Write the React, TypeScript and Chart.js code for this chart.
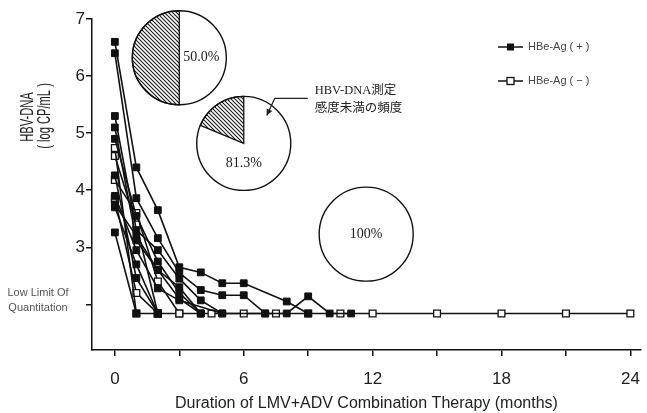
import React, { useEffect, useRef } from 'react';
import { Chart, registerables } from 'chart.js';

Chart.register(...registerables);

// Lower limit of quantitation (log copies/mL), plotted level
const LLOQ = 1.84;
const L = LLOQ;

// HBe-Ag (+) patients: [month, log CP/mL]
const posA = [[0, 6.6], [1, 4.4], [2, 3.65], [3, 2.65], [4, 2.56], [5, 2.37], [6, 2.37], [8, 2.05], [9, L]];
const posB = [[0, 6.4], [1, 3.86], [2, 3.16], [3, 2.55], [4, 2.25], [5, 2.16], [6, 2.16], [7, L]];
const posC = [[0, 5.3], [1, 3.3], [2, 2.95], [3, 2.45], [4, 2.07], [5, L], [7, L], [8, L], [9, 2.14], [10, L], [11, L]];
const posD = [[0, 5.1], [1, 3.12], [2, 2.6], [3, 2.3], [4, L]];
const posE = [[0, 4.9], [1, 3.55], [2, 2.75], [3, 2.2], [4, L]];
const posF = [[0, 4.26], [1, 2.46], [2, L]];
const posG = [[0, 3.9], [1, 2.95], [2, 2.28], [3, 2.07], [5, L]];
const posH = [[0, 3.75], [1, 3.2], [2, 2.6], [3, 2.1], [4, L]];
const posI = [[0, 3.7], [1, 2.7], [2, L]];
const posJ = [[0, 3.26], [1, L]];

// HBe-Ag (-) patients
const negA = [[0, 4.74], [1, L], [2, L], [3, L], [4.5, L], [6, L], [7.5, L], [9, L], [10.5, L], [12, L], [15, L], [18, L], [21, L], [24, L]];
const negB = [[0, 4.6], [1, 3.4], [2, L]];
const negC = [[0, 4.18], [1, 3.6], [2, 2.4], [3, L]];
const negD = [[0, 3.85], [1, 2.2], [2, L]];

const positiveSeries = [posA, posB, posC, posD, posE, posF, posG, posH, posI, posJ];
const negativeSeries = [negA, negB, negC, negD];

// Axis ticks
const xTickValues = [0, 3, 6, 9, 12, 15, 18, 21, 24];
const xLabelEvery = 6;
const yTickValues = [2, 3, 4, 5, 6, 7];

// Pie insets: frequency of HBV-DNA below detection
const pieMonths = [3, 6, 11.7];
const pieBelowPct = [50.0, 81.3, 100];
const pieLabels = ['50.0%', '81.3%', '100%'];

const legendLabels = ['HBe-Ag ( + )', 'HBe-Ag ( − )'];
const xTitle = 'Duration of LMV+ADV Combination Therapy (months)';
const yTitle1 = 'HBV-DNA';
const yTitle2 = '( log CP/mL )';
const lloqLines = ['Low Limit Of', 'Quantitation'];
const noteLines = ['HBV-DNA測定', '感度未満の頻度'];

const SANS = '"Liberation Sans", Arial, sans-serif';
const SERIF = '"Liberation Serif", "Noto Sans CJK JP", serif';

function makeHatch(ctx: CanvasRenderingContext2D) {
  const c = document.createElement('canvas');
  c.width = 4;
  c.height = 4;
  const g = c.getContext('2d')!;
  g.fillStyle = '#fff';
  g.fillRect(0, 0, 4, 4);
  g.strokeStyle = '#1a1a1a';
  g.lineWidth = 1.1;
  g.beginPath();
  g.moveTo(-1, -1); g.lineTo(5, 5);
  g.moveTo(-1, 3); g.lineTo(1, 5);
  g.moveTo(3, -1); g.lineTo(5, 1);
  g.stroke();
  return ctx.createPattern(c, 'repeat')!;
}

const decor = {
  id: 'decor',
  afterDraw(chart: any) {
    const { ctx, scales } = chart;
    const xs = scales.x;
    const ys = scales.y;
    ctx.save();

    // Y axis title (condensed, rotated)
    ctx.fillStyle = '#222';
    ctx.textAlign = 'center';
    ctx.textBaseline = 'middle';
    ctx.font = `18px ${SANS}`;
    const drawRot = (t: string, cx: number, cy: number) => {
      ctx.save();
      ctx.translate(cx, cy);
      ctx.rotate(-Math.PI / 2);
      ctx.scale(0.62, 1);
      ctx.fillText(t, 0, 0);
      ctx.restore();
    };
    drawRot(yTitle1, 28, 117);
    drawRot(yTitle2, 45, 116);

    // Low limit label
    ctx.font = `11px ${SANS}`;
    ctx.fillStyle = '#555';
    ctx.fillText(lloqLines[0], 38, 293);
    ctx.fillText(lloqLines[1], 38, 308);

    // Pies
    const hatch = makeHatch(ctx);
    const pieY = [6.32, 4.82, 3.23];
    const labelOff = [[22, 0], [0, 20], [0, 0]];
    const R = 47;
    pieMonths.forEach((m, i) => {
      const cx = xs.getPixelForValue(m);
      const cy = ys.getPixelForValue(pieY[i]);
      ctx.beginPath();
      ctx.arc(cx, cy, R, 0, Math.PI * 2);
      ctx.fillStyle = '#fff';
      ctx.fill();
      const a = ((100 - pieBelowPct[i]) / 100) * Math.PI * 2;
      if (a > 0) {
        ctx.beginPath();
        ctx.moveTo(cx, cy);
        ctx.arc(cx, cy, R, -Math.PI / 2 - a, -Math.PI / 2);
        ctx.closePath();
        ctx.fillStyle = hatch;
        ctx.fill();
        ctx.strokeStyle = '#111';
        ctx.lineWidth = 1.3;
        ctx.stroke();
      }
      ctx.beginPath();
      ctx.arc(cx, cy, R, 0, Math.PI * 2);
      ctx.strokeStyle = '#111';
      ctx.lineWidth = 1.4;
      ctx.stroke();
      ctx.fillStyle = '#222';
      ctx.font = `14px ${SERIF}`;
      ctx.textAlign = 'center';
      ctx.textBaseline = 'middle';
      ctx.fillText(pieLabels[i], cx + labelOff[i][0], cy + labelOff[i][1]);
    });

    // Annotation near second pie
    const px = xs.getPixelForValue(pieMonths[1]);
    const py = ys.getPixelForValue(pieY[1]);
    ctx.font = `12.5px ${SERIF}`;
    ctx.textAlign = 'left';
    ctx.fillStyle = '#222';
    ctx.fillText(noteLines[0], px + 71, py - 53);
    ctx.fillText(noteLines[1], px + 71, py - 35);
    ctx.strokeStyle = '#222';
    ctx.lineWidth = 1.2;
    ctx.beginPath();
    ctx.moveTo(px + 64, py - 45);
    ctx.lineTo(px + 31, py - 45);
    ctx.lineTo(px + 23, py - 28);
    ctx.stroke();
    // arrow head
    const ax = px + 23, ay = py - 28;
    const ang = Math.atan2(17, -8);
    ctx.beginPath();
    ctx.moveTo(ax, ay);
    ctx.lineTo(ax - 7 * Math.cos(ang - 0.45), ay - 7 * Math.sin(ang - 0.45));
    ctx.lineTo(ax - 7 * Math.cos(ang + 0.45), ay - 7 * Math.sin(ang + 0.45));
    ctx.closePath();
    ctx.fillStyle = '#222';
    ctx.fill();

    // Legend
    const lx = 498, lw = 25;
    [47, 81].forEach((ly, i) => {
      ctx.strokeStyle = '#111';
      ctx.lineWidth = 1.5;
      ctx.beginPath();
      ctx.moveTo(lx, ly);
      ctx.lineTo(lx + lw, ly);
      ctx.stroke();
      const mx = lx + lw / 2;
      if (i === 0) {
        ctx.fillStyle = '#111';
        ctx.fillRect(mx - 3.5, ly - 3.5, 7, 7);
      } else {
        ctx.fillStyle = '#fff';
        ctx.fillRect(mx - 3.5, ly - 3.5, 7, 7);
        ctx.lineWidth = 1.3;
        ctx.strokeRect(mx - 3.5, ly - 3.5, 7, 7);
      }
      ctx.fillStyle = '#444';
      ctx.font = `11px ${SANS}`;
      ctx.textAlign = 'left';
      ctx.textBaseline = 'middle';
      ctx.fillText(legendLabels[i], lx + lw + 5, ly);
    });

    ctx.restore();
  },
};

export default function App() {
  const ref = useRef<HTMLCanvasElement>(null);

  useEffect(() => {
    if (!ref.current) return;
    const toPts = (s: number[][]) => s.map(([x, y]) => ({ x, y }));
    const datasets: any[] = [];
    positiveSeries.forEach((s, i) => {
      datasets.push({
        label: `pos${i}`,
        data: toPts(s),
        showLine: true,
        borderColor: '#111',
        backgroundColor: '#111',
        borderWidth: 1.6,
        pointStyle: 'rect',
        pointRadius: 4.8,
        pointBorderWidth: 1,
        pointBackgroundColor: '#111',
        pointBorderColor: '#111',
      });
    });
    negativeSeries.forEach((s, i) => {
      datasets.push({
        label: `neg${i}`,
        data: toPts(s),
        showLine: true,
        borderColor: '#111',
        backgroundColor: '#fff',
        borderWidth: 1.6,
        pointStyle: 'rect',
        pointRadius: 4.8,
        pointBorderWidth: 1.3,
        pointBackgroundColor: '#fff',
        pointBorderColor: '#111',
      });
    });

    const axisGrid = {
      display: true,
      drawOnChartArea: false,
      drawTicks: true,
      tickLength: 6,
      color: '#111',
      lineWidth: 1.5,
    };

    const chart = new Chart(ref.current, {
      type: 'scatter',
      data: { datasets },
      options: {
        animation: false,
        responsive: false,
        maintainAspectRatio: false,
        layout: { padding: { top: 19, right: 3, left: 0, bottom: 0 } },
        plugins: { legend: { display: false }, tooltip: { enabled: false } },
        scales: {
          x: {
            type: 'linear',
            min: -1.065,
            max: 24.49,
            afterBuildTicks: (s: any) => {
              s.ticks = xTickValues.map((v) => ({ value: v }));
            },
            afterFit: (s: any) => {
              s.height = 63;
              s.paddingLeft = 0;
              s.paddingRight = 0;
            },
            ticks: {
              autoSkip: false,
              maxRotation: 0,
              padding: 13,
              color: '#222',
              font: { family: SANS, size: 17 },
              callback: (v: any) => (Number(v) % xLabelEvery === 0 ? String(v) : ''),
            },
            grid: axisGrid,
            border: { display: true, color: '#111', width: 1.5 },
            title: {
              display: true,
              text: xTitle,
              color: '#222',
              font: { family: SANS, size: 16 },
              padding: { top: 0, bottom: 0 },
            },
          },
          y: {
            type: 'linear',
            min: 1.2,
            max: 7,
            afterBuildTicks: (s: any) => {
              s.ticks = yTickValues.map((v) => ({ value: v }));
            },
            afterFit: (s: any) => {
              s.width = 92;
            },
            ticks: {
              autoSkip: false,
              padding: 1,
              color: '#222',
              font: { family: SANS, size: 17 },
              callback: (v: any) => (Number(v) === 2 ? '' : String(v)),
            },
            grid: axisGrid,
            border: { display: true, color: '#111', width: 1.5 },
          },
        },
      },
      plugins: [decor],
    });
    return () => chart.destroy();
  }, []);

  return (
    <div style={{ position: 'fixed', left: 0, top: 0, width: 647, height: 413, background: '#fff' }}>
      <canvas ref={ref} width={647} height={413} />
    </div>
  );
}
